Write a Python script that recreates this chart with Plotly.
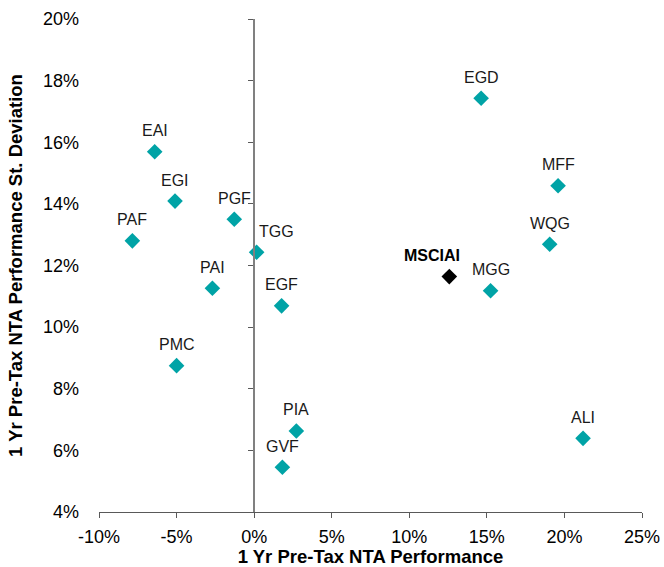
import plotly.graph_objects as go

# Data (percent)
funds = ["EAI", "EGI", "PGF", "PAF", "TGG", "PAI", "EGF", "PMC", "PIA", "GVF",
         "EGD", "MFF", "WQG", "MGG", "ALI"]
perf = [-6.41, -5.10, -1.28, -7.85, 0.16, -2.69, 1.77, -5.00, 2.72, 1.82,
        14.63, 19.59, 19.05, 15.24, 21.20]
stdev = [15.69, 14.09, 13.50, 12.80, 12.43, 11.26, 10.69, 8.75, 6.63, 5.45,
         17.43, 14.59, 12.69, 11.18, 6.39]

bench_name = ["MSCIAI"]
bench_perf = [12.58]
bench_stdev = [11.64]

x_ticks = [-10, -5, 0, 5, 10, 15, 20, 25]
y_ticks = [4, 6, 8, 10, 12, 14, 16, 18, 20]

# label horizontal nudges (pixels)
label_xshift = {"TGG": 20, "MSCIAI": -17}

FONT = "Arial, Liberation Sans, sans-serif"
TEAL = "#00A3A6"

fig = go.Figure()
fig.add_trace(go.Scatter(
    x=perf, y=stdev, mode="markers",
    marker=dict(symbol="diamond", size=12, color=TEAL),
    showlegend=False, hoverinfo="text", text=funds,
))
fig.add_trace(go.Scatter(
    x=bench_perf, y=bench_stdev, mode="markers",
    marker=dict(symbol="diamond", size=12, color="#000000"),
    showlegend=False, hoverinfo="text", text=bench_name,
))

for n, xv, yv in zip(funds, perf, stdev):
    fig.add_annotation(x=xv, y=yv, text=n, showarrow=False, yshift=21,
                       xshift=label_xshift.get(n, 0),
                       font=dict(family=FONT, size=16, color="#1a1a1a"))
for n, xv, yv in zip(bench_name, bench_perf, bench_stdev):
    fig.add_annotation(x=xv, y=yv, text="<b>" + n + "</b>", showarrow=False, yshift=21,
                       xshift=label_xshift.get(n, 0),
                       font=dict(family=FONT, size=16, color="#000000"))

xmin, xmax = x_ticks[0], x_ticks[-1]
fig.update_layout(
    width=664, height=567,
    margin=dict(l=99, r=22, t=19, b=55, autoexpand=False),
    paper_bgcolor="white", plot_bgcolor="white",
    font=dict(family=FONT, size=18, color="#000000"),
    xaxis=dict(
        range=[xmin, xmax], tickvals=x_ticks,
        ticktext=[f"{v}%" for v in x_ticks],
        showgrid=False, zeroline=False, automargin=False,
        showline=True, linecolor="#595959", linewidth=1.3,
        ticks="outside", ticklen=5, tickcolor="#595959", tickwidth=1.3,
        ticklabelstandoff=3,
        tickfont=dict(size=18),
        title=dict(text="<b>1 Yr Pre-Tax NTA Performance</b>", font=dict(size=18.5), standoff=6),
    ),
    yaxis=dict(
        range=[y_ticks[0], y_ticks[-1]], tickvals=y_ticks,
        ticktext=[f"{v}%" for v in y_ticks],
        showgrid=False, zeroline=False, showline=False, automargin=False,
        ticks="", ticklabelstandoff=19,
        tickfont=dict(size=18),
        title=dict(text="<b>1 Yr Pre-Tax NTA Performance St. Deviation</b>", font=dict(size=18.5), standoff=15),
    ),
    yaxis2=dict(
        overlaying="y", anchor="free", automargin=False,
        position=(0 - xmin) / (xmax - xmin),
        range=[y_ticks[0], y_ticks[-1]], tickvals=y_ticks,
        showticklabels=False, showgrid=False, zeroline=False,
        showline=True, linecolor="#808080", linewidth=2,
        ticks="outside", ticklen=5, tickcolor="#595959", tickwidth=1.3,
    ),
)
# invisible trace to activate yaxis2
fig.add_trace(go.Scatter(x=[None], y=[None], yaxis="y2", showlegend=False, hoverinfo="skip"))

fig.write_html("out.html", config={"displayModeBar": False},
               post_script="document.body.style.margin='0';document.body.style.overflow='hidden';")
